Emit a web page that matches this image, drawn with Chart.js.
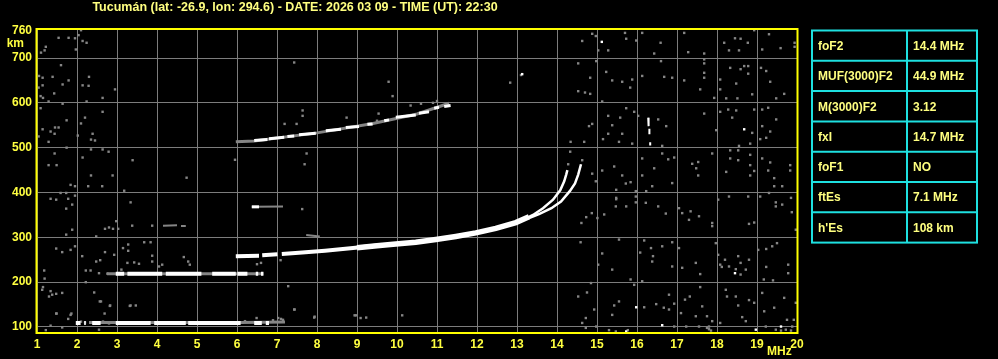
<!DOCTYPE html>
<html>
<head>
<meta charset="utf-8">
<style>
  html, body { margin: 0; padding: 0; background: #000; overflow: hidden; }
  #wrap { width: 998px; height: 359px; }
</style>
<script src="https://cdn.jsdelivr.net/npm/chart.js@4/dist/chart.umd.min.js"></script>
</head>
<body>
<div id="wrap"><canvas id="iono" width="998" height="359"></canvas></div>
<script>
// --- header / table text
const titleText = 'Tucumán (lat: -26.9, lon: 294.6) - DATE: 2026 03 09 - TIME (UT): 22:30';
const tableParams = ['foF2', 'MUF(3000)F2', 'M(3000)F2', 'fxI', 'foF1', 'ftEs', "h'Es"];
const tableValues = ['14.4 MHz', '44.9 MHz', '3.12', '14.7 MHz', 'NO', '7.1 MHz', '108 km'];

// --- axes
const freqTicks = [1, 2, 3, 4, 5, 6, 7, 8, 9, 10, 11, 12, 13, 14, 15, 16, 17, 18, 19, 20];
const heightTicks = [100, 200, 300, 400, 500, 600, 700, 760];

// --- echo traces, [MHz, km], null = gap
const esWhite = [[1.97,109],[2.09,109],null,[2.18,109],[2.22,109],null,[2.38,109],[2.59,109],null,[2.97,109],[3.84,109],null,
  [3.93,109],[4.72,109],null,[4.78,109],[6.09,109],null,[6.43,109],[6.62,109],null,[6.72,109],[6.8,109]];
const esGrey = [[2.3,110],[6.09,110],[7.2,111]];
const es2White = [[2.97,219],[3.18,219],null,[3.26,219],[4.13,219],null,[4.22,219],[5.11,219],null,[5.38,219],[5.97,219],null,
  [6.01,219],[6.26,219],null,[6.47,219],[6.53,219],null,[6.6,219],[6.66,219]];
const es2Grey = [[2.75,219],[6.66,219]];
const fLowWhite = [[5.97,258],[6.55,259],null,[6.63,260],[7.01,262],null,[7.12,263],[7.63,266],[8.2,270],[8.9,276],[9.5,282]];
const fHighWhite = [[9.0,277],[9.5,281],[9.97,285],[10.47,289],[10.97,295],[11.47,302],[11.97,310],[12.47,320],[12.97,333],[13.3,346]];
const oTrace = [[13.2,341],[13.4,350],[13.65,365],[13.9,384],[14.08,405],[14.18,425],[14.23,440],[14.26,450]];
const xTrace = [[13.3,343],[13.55,352],[13.86,365],[14.1,380],[14.32,403],[14.45,420],[14.53,440],[14.6,463]];
const f2White = [[6.43,516],[6.76,518],null,[6.8,520],[7.18,523],null,[7.26,525],[7.43,526],null,[7.55,529],[7.97,532],null,
  [8.22,538],[8.6,541],null,[8.72,545],[9.05,547],null,[9.26,552],[9.39,553],null,[9.68,560],[9.8,562],null,
  [9.97,568],[10.47,573],null,[10.55,577],[10.8,580],null,[10.93,588],[11.05,590],null,[11.18,592],[11.34,594]];
const f2Grey = [[5.97,513],[6.43,515],[8.0,533],[9.4,554],[10.5,575],[11.1,593],[11.3,599]];
const smallWhite = [[6.37,368],[6.55,368]];
const smallGrey = [[6.37,368],[7.15,369],null,[4.15,326],[4.5,327],null,[4.6,325],[4.72,325],null,[7.73,305],[8.07,302]];
const spikeWhite = [[16.28,567],[16.29,548],null,[16.31,542],[16.31,530],null,[16.33,512],[16.33,505]];

// --- scattered interference, [MHz, km]
const greyNoise = [
  [1.54,745],[1.79,745],[1.95,744],[2.04,751],[2.10,762],[2.14,738],[2.24,734],[1.97,719],[1.22,725],[1.10,712],[1.19,717],
  [7.43,690],[1.60,684],[1.05,660],[1.14,656],[1.39,658],[1.79,650],[2.30,658],[1.64,641],[2.14,639],[2.29,638],[1.14,639],
  [1.04,634],[2.95,630],[1.43,621],[1.09,615],[1.15,611],[1.29,603],[2.64,611],[2.24,603],[1.64,598],[1.09,588],[2.64,580],
  [2.20,567],[1.74,561],[2.10,554],[1.14,541],[1.45,545],[1.54,545],[1.34,536],[1.44,531],[2.02,527],[1.04,525],[2.39,531],
  [1.29,513],[2.35,518],[2.45,516],[1.74,500],[2.64,496],[2.79,491],[2.35,496],[1.44,487],[2.14,478],[1.29,461],[1.49,461],
  [2.35,438],[2.89,438],[3.39,472],[4.74,433],[5.95,473],[7.74,487],[7.69,463],[7.64,583],[7.64,571],[7.19,553],[7.49,553],
  [8.74,567],[9.79,647],[9.89,615],[9.54,576],[10.34,594],[9.5,560],[10.6,598],[10.9,600],[11.0,604],
  [14.63,738],[14.88,754],[14.97,749],[15.03,717],[15.28,717],[15.70,756],[15.73,743],[15.98,739],[16.13,756],[16.59,734],
  [16.43,710],[17.18,756],[17.28,713],[17.68,710],[18.18,734],[18.45,744],[18.59,743],[18.77,734],[19.13,719],[19.30,753],
  [19.59,722],[19.94,734],[19.94,725],[18.93,762],[18.30,717],[18.55,717],[14.53,688],[14.98,693],[15.23,669],[14.83,656],
  [15.38,650],[15.63,647],[15.88,652],[15.83,634],[16.13,660],[16.60,693],[16.68,658],[16.88,656],[17.18,650],[17.68,697],
  [17.68,688],[17.68,667],[17.68,656],[17.58,630],[18.08,652],[18.08,630],[18.33,678],[18.59,675],[18.68,682],[18.78,682],
  [18.78,665],[18.48,643],[18.88,619],[19.10,678],[19.23,671],[19.33,647],[19.48,610],[19.68,620],[18.23,610],[18.51,610],
  [17.93,611],[14.53,626],[14.70,623],[14.83,620],[15.13,603],[12.83,645],[13.1,662],[15.73,588],[15.93,580],[16.03,571],
  [16.53,563],[16.73,548],[15.28,571],[15.58,567],[15.38,550],[14.80,548],[14.88,553],[15.28,531],[15.15,519],[15.63,531],
  [15.88,509],[15.55,513],[14.34,513],[14.68,513],[16.63,504],[17.68,576],[17.98,539],[18.08,580],[18.28,585],[18.48,583],
  [18.38,567],[18.93,585],[19.13,585],[19.28,589],[19.48,563],[19.13,548],[18.88,533],[19.23,522],[19.33,536],[19.08,519],
  [18.55,504],[18.33,494],[18.53,494],[18.83,509],[18.33,476],[18.53,472],[18.83,484],[18.83,461],[19.13,476],[19.33,467],
  [19.83,461],[19.83,449],[19.43,432],[19.28,449],[17.88,487],[17.53,468],[17.38,464],[17.48,454],[17.53,438],[16.93,478],
  [16.63,487],[16.43,454],[16.78,474],[16.13,476],[16.13,438],[15.63,438],[15.43,458],[15.13,449],[14.63,472],[14.33,491],
  [14.28,463],[14.88,442],[18.93,448],[18.83,438],[18.23,446],
  [1.84,417],[1.95,414],[2.28,414],[2.63,414],[3.18,404],[1.34,386],[1.48,384],[1.59,399],[1.73,399],[1.78,386],[1.95,393],
  [1.88,373],[1.73,364],[3.34,378],[2.98,336],[2.70,319],[2.80,322],[2.90,319],[3.03,319],[3.38,326],[3.88,326],[1.88,317],
  [1.73,306],[2.48,302],[3.68,289],[3.84,289],[1.48,275],[1.63,267],[1.84,272],[1.95,280],[2.13,258],[2.48,246],[2.58,249],
  [2.70,267],[2.93,261],[3.15,276],[3.28,284],[3.28,270],[3.88,259],[3.88,246],[4.05,235],[4.13,239],[3.43,244],[3.26,243],
  [3.55,241],[4.67,256],[4.78,246],[4.82,239],[1.18,226],[1.19,208],[2.22,226],[2.34,226],[2.55,220],[2.76,219],[3.11,228],
  [1.15,189],[1.34,180],[1.30,168],[1.38,172],[1.63,176],[1.13,183],[1.48,174],[2.43,177],[2.60,157],[2.83,148],[3.34,148],
  [3.47,148],[1.48,130],[1.84,127],[1.78,118],[2.22,200],[1.34,103],[1.63,99],[1.22,93],[2.55,94],[7.28,191],[7.43,139],
  [7.93,121],[8.97,126],[9.09,120],[9.23,121],[10.13,126],[7.09,249],[7.63,363],[6.5,240],[6.6,243],
  [6.49,120],[7.03,120],[7.15,116],[7.44,139],[7.94,123],[8.94,126],[1.49,130],[1.86,130],[2.57,157],[2.82,147],[3.32,147],
  [2.69,130],[6.2,113],[6.9,115],[7.1,118],[2.2,110],[2.1,112],[2.65,112],[2.8,108],
  [15.48,406],[15.48,385],[15.48,388],[15.72,420],[15.97,403],[15.97,391],[15.84,423],[16.23,403],[16.38,414],[16.88,421],[14.97,425],
  [14.61,332],[14.73,345],[14.87,354],[15.01,343],[15.18,351],[15.47,369],[15.73,369],[15.97,378],[16.22,377],[16.53,369],
  [16.72,353],[17.13,354],[17.05,365],[17.34,358],[17.30,339],[17.55,347],[17.88,332],[17.88,325],[18.03,384],[18.30,391],
  [18.78,391],[18.80,330],[18.93,333],[19.08,391],[19.30,399],[19.47,378],[19.47,369],[19.63,373],[19.85,388],[19.43,414],
  [19.63,414],[19.87,356],[19.97,317],[14.59,289],[15.13,264],[15.03,239],[15.38,228],[15.55,295],[15.84,206],[16.13,202],
  [16.18,293],[16.35,276],[16.40,258],[16.38,246],[16.08,266],[16.63,280],[16.88,289],[16.88,235],[17.05,276],[17.13,232],
  [17.47,243],[17.58,218],[17.97,287],[18.03,261],[18.08,239],[18.12,234],[18.30,235],[18.20,250],[18.47,229],[18.59,243],
  [18.53,258],[18.80,250],[18.72,228],[19.03,272],[19.23,274],[19.38,280],[19.50,287],[19.78,239],[19.78,220],[19.23,234],
  [19.40,204],[19.17,206],[18.59,217],[14.85,198],[14.53,168],[14.75,177],[14.93,139],[14.72,120],[15.43,148],[15.55,157],
  [15.38,127],[16.18,144],[15.93,194],[16.48,151],[16.67,143],[16.80,172],[16.93,152],[16.80,139],[17.20,161],[17.10,131],
  [17.32,168],[17.47,124],[17.58,189],[17.63,146],[17.75,124],[17.80,101],[17.88,113],[18.08,109],[18.22,183],[18.25,168],
  [18.47,168],[18.53,148],[18.63,122],[18.72,113],[18.80,160],[19.13,176],[19.18,135],[19.43,143],[19.68,165],[19.75,116],
  [19.92,116],[19.97,154],[18.93,154],[16.93,101],[17.23,101],[17.55,101],[14.63,109],[14.72,98],[14.98,101],[15.30,93],
  [15.47,90],[15.77,93],[19.47,94],[19.72,94],[19.88,101],[19.22,101],[17.8,95],[17.85,92],[17.75,98],[19.6,92],[19.85,92]
];
const whiteNoise = [[15.12,736],[18.68,541],[18.45,220],[15.98,144],[16.63,104],[15.73,90],[18.97,94],[19.6,101],[13.13,664]];

// ---------------------------------------------------------------
const yellow = '#ffff40';
const paleYellow = '#ffff80';
const gridGrey = '#7c7c7c';
const noiseGrey = '#858585';
const FONT = '"Liberation Sans", Arial, sans-serif';

const toPts = arr => {
  let lastX = 1;
  return arr.map(p => p ? (lastX = p[0], { x: p[0], y: p[1] }) : { x: lastX, y: null });
};

const trace = (data, color, width) => ({
  data: toPts(data), showLine: true, borderColor: color, borderWidth: width,
  pointRadius: 0, spanGaps: false, tension: 0, fill: false,
});

const decor = {
  id: 'decor',
  beforeDraw(chart) {
    const ctx = chart.ctx;
    ctx.save();
    ctx.fillStyle = '#000';
    ctx.fillRect(0, 0, chart.width, chart.height);
    ctx.restore();
  },
  afterDraw(chart) {
    const { ctx, chartArea: a } = chart;
    ctx.save();
    // frame
    ctx.strokeStyle = '#ffff00';
    ctx.lineWidth = 2;
    ctx.strokeRect(a.left - 0.5, a.top, a.right - a.left + 1, a.bottom - a.top);
    // title
    ctx.fillStyle = paleYellow;
    ctx.font = `bold 12.5px ${FONT}`;
    ctx.textAlign = 'center';
    ctx.textBaseline = 'middle';
    ctx.fillText(titleText, 295, 8);
    // axis units
    ctx.font = `bold 12px ${FONT}`;
    ctx.fillStyle = yellow;
    ctx.textAlign = 'right';
    ctx.fillText('km', 24, 44);
    ctx.textAlign = 'left';
    ctx.fillText('MHz', 767, 352);
    // parameter table
    const x0 = 812, x1 = 977, xm = 907, y0 = 30.5, rowH = 30.3;
    ctx.strokeStyle = '#1ee0e0';
    ctx.lineWidth = 2;
    ctx.strokeRect(x0, y0, x1 - x0, rowH * tableParams.length);
    ctx.beginPath();
    ctx.moveTo(xm, y0); ctx.lineTo(xm, y0 + rowH * tableParams.length);
    for (let i = 1; i < tableParams.length; i++) {
      ctx.moveTo(x0, y0 + rowH * i); ctx.lineTo(x1, y0 + rowH * i);
    }
    ctx.stroke();
    ctx.fillStyle = paleYellow;
    ctx.textAlign = 'left';
    tableParams.forEach((p, i) => {
      const cy = y0 + rowH * i + rowH / 2 + 1;
      ctx.fillText(p, x0 + 6, cy);
      ctx.fillText(tableValues[i], xm + 6, cy);
    });
    ctx.restore();
  },
};

const tickFont = { family: FONT, weight: 'bold', size: 12 };

new Chart(document.getElementById('iono'), {
  type: 'scatter',
  data: {
    datasets: [
      trace(spikeWhite, '#fff', 2),
      trace(oTrace, '#fff', 2.5),
      trace(xTrace, '#fff', 2.5),
      trace(fHighWhite, '#fff', 5.5),
      trace(fLowWhite, '#fff', 4),
      trace(f2White, '#fff', 3),
      trace(smallWhite, '#fff', 3),
      trace(esWhite, '#fff', 4),
      trace(es2White, '#fff', 4),
      trace(f2Grey, noiseGrey, 3),
      trace(smallGrey, noiseGrey, 2),
      trace(esGrey, noiseGrey, 3),
      trace(es2Grey, noiseGrey, 3),
      { data: toPts(whiteNoise), pointStyle: 'rect', pointRadius: 1.7, borderWidth: 0, backgroundColor: '#fff' },
      { data: toPts(greyNoise), pointStyle: 'rect', pointRadius: 1.7, borderWidth: 0, backgroundColor: noiseGrey },
    ],
  },
  options: {
    responsive: false,
    animation: false,
    devicePixelRatio: 1,
    events: [],
    layout: { padding: { left: 0, right: 201, top: 29, bottom: 0 } },
    plugins: { legend: { display: false }, tooltip: { enabled: false } },
    scales: {
      x: {
        type: 'linear', min: 1, max: 20,
        afterBuildTicks: s => { s.ticks = freqTicks.map(v => ({ value: v })); },
        afterFit: s => { s.height = 26; },
        ticks: { color: yellow, font: tickFont, padding: 4, maxRotation: 0, autoSkip: false },
        grid: { color: gridGrey, lineWidth: 1, drawTicks: false },
        border: { display: false },
      },
      y: {
        type: 'linear', min: 86.6, max: 764.7,
        afterBuildTicks: s => { s.ticks = heightTicks.map(v => ({ value: v })); },
        afterFit: s => { s.width = 37; },
        ticks: { color: yellow, font: tickFont, padding: 5, autoSkip: false },
        grid: {
          color: c => (c.tick && c.tick.value === 760 ? 'rgba(0,0,0,0)' : gridGrey),
          lineWidth: 1, drawTicks: false,
        },
        border: { display: false },
      },
    },
  },
  plugins: [decor],
});
</script>
</body>
</html>
